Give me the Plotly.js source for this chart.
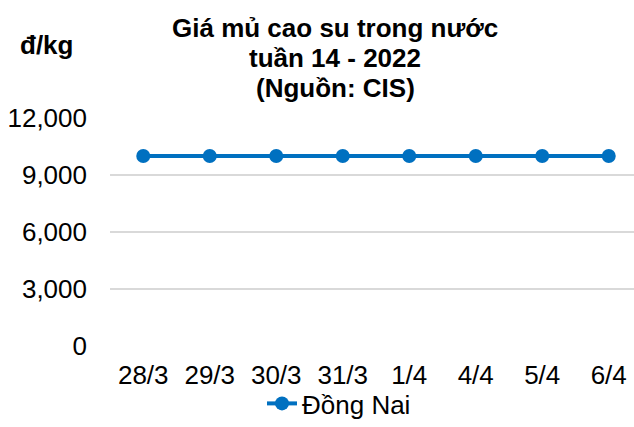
<!DOCTYPE html>
<html><head><meta charset="utf-8">
<script src="https://cdn.plot.ly/plotly-3.0.1.min.js"></script>
<style>html,body{margin:0;padding:0;background:#fff}#c{width:634px;height:427px}</style>
</head><body><div id="c"></div>
<script>
const categories = ["28/3","29/3","30/3","31/3","1/4","4/4","5/4","6/4"];
const dongNai = [10000,10000,10000,10000,10000,10000,10000,10000];
const seriesName = "Đồng Nai";
const yTicks = [0,3000,6000,9000,12000];
const yTickText = ["0","3,000","6,000","9,000","12,000"];
const titleLines = ["Giá mủ cao su trong nước","tuần 14 - 2022","(Nguồn: CIS)"];
const unitLabel = "đ/kg";

const font = "Liberation Sans, Arial, sans-serif";
const trace = {
  x: categories, y: dongNai, name: seriesName, type: "scatter", mode: "lines+markers",
  line: {color: "#0070C0", width: 4}, marker: {color: "#0070C0", size: 14}
};
const titleAnn = titleLines.map((t, i) => ({
  text: "<b>" + t + "</b>", xref: "paper", yref: "paper",
  x: (335 - 110) / 524, y: (346 - (28 + 30 * i)) / 228,
  xanchor: "center", yanchor: "middle", showarrow: false,
  font: {family: font, size: 26, color: "#000"}
}));
const layout = {
  width: 634, height: 427,
  margin: {l: 110, r: 0, t: 118, b: 81},
  paper_bgcolor: "#fff", plot_bgcolor: "#fff",
  font: {family: font, color: "#000", size: 26},
  xaxis: {type: "category", range: [-0.5, 7.38], showgrid: false, zeroline: false, showline: false,
          ticks: "", tickfont: {size: 26}, ticklabelstandoff: 11},
  yaxis: {range: [0, 12000], tickvals: yTicks, ticktext: yTickText, showgrid: true, gridcolor: "#D9D9D9",
          gridwidth: 1.5, zeroline: false, showline: false, ticks: "", tickfont: {size: 26}, ticklabelstandoff: 22},
  showlegend: true,
  legend: {orientation: "h", xref: "container", yref: "container", x: 262/634, xanchor: "left",
           y: 0, yanchor: "bottom", font: {size: 26}, bgcolor: "rgba(0,0,0,0)", tracegroupgap: 0},
  annotations: titleAnn.concat([{text: "<b>" + unitLabel + "</b>", xref: "paper", yref: "paper",
                 x: (18 - 110) / 524, y: (346 - 45) / 228,
                 xanchor: "left", yanchor: "middle", showarrow: false, font: {family: font, size: 26, color: "#000"}}])
};
Plotly.newPlot("c", [trace], layout, {displayModeBar: false, staticPlot: true});
</script></body></html>
